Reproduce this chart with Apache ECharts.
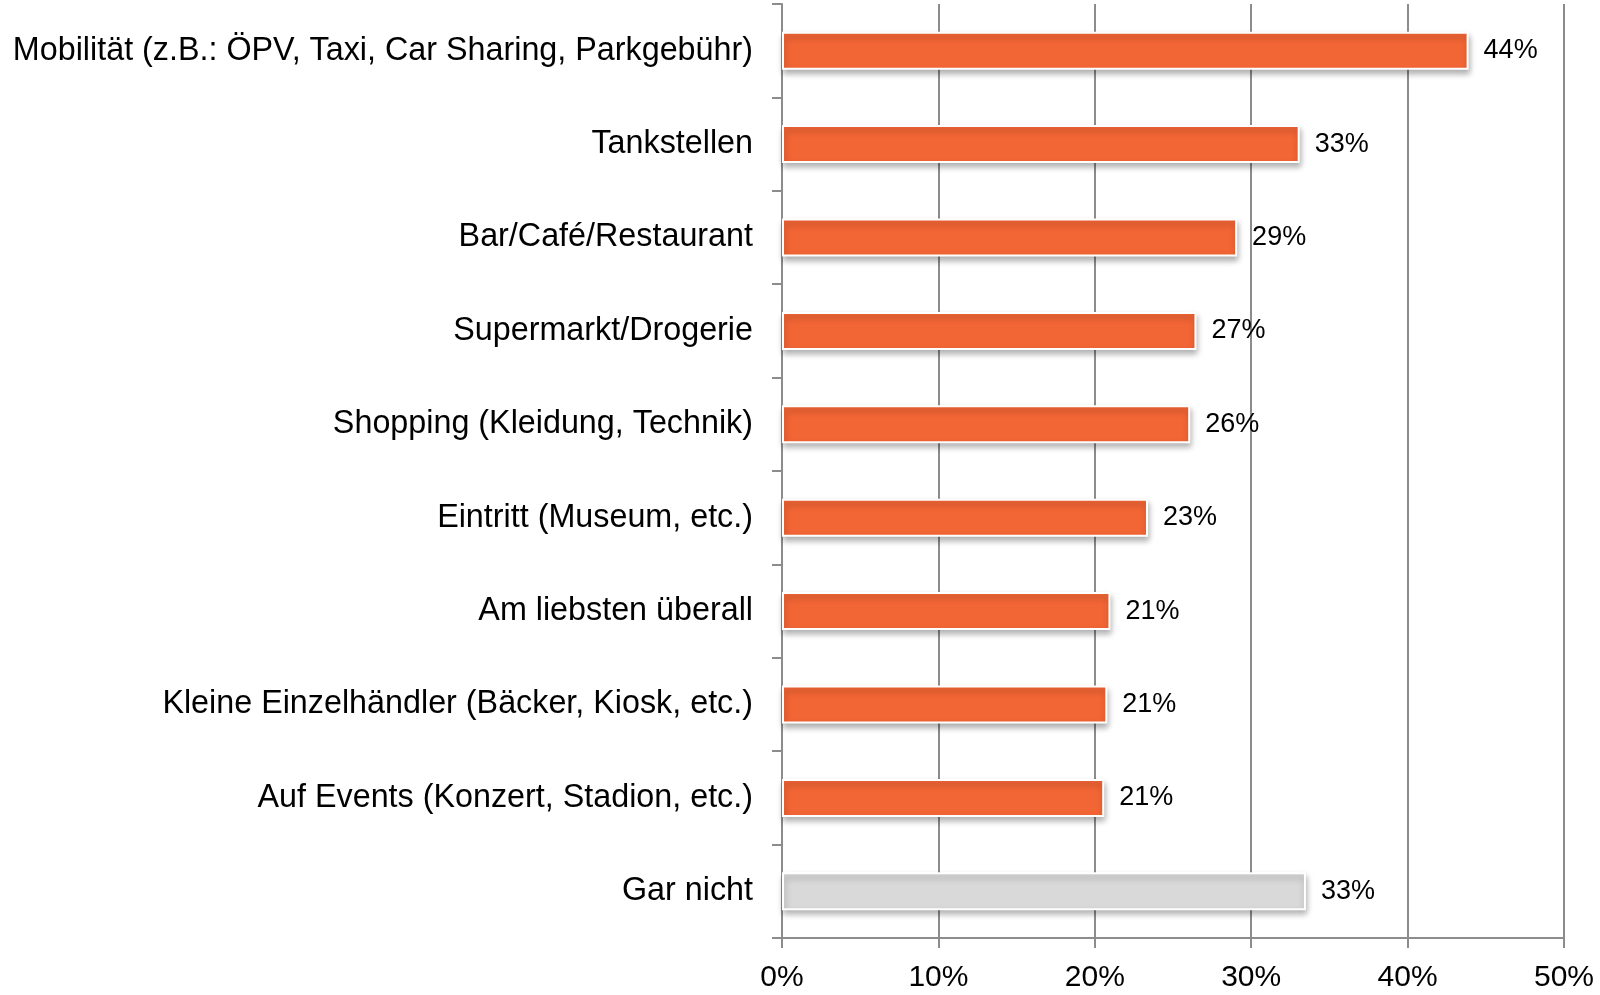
<!DOCTYPE html>
<html>
<head>
<meta charset="utf-8">
<script src="https://cdn.jsdelivr.net/npm/echarts@6/dist/echarts.min.js"></script>
<style>html,body{margin:0;padding:0;background:#fff}#c{width:1600px;height:995px}</style>
</head>
<body>
<div id="c"></div>
<script>
const categories = [
  "Mobilität (z.B.: ÖPV, Taxi, Car Sharing, Parkgebühr)",
  "Tankstellen",
  "Bar/Café/Restaurant",
  "Supermarkt/Drogerie",
  "Shopping (Kleidung, Technik)",
  "Eintritt (Museum, etc.)",
  "Am liebsten überall",
  "Kleine Einzelhändler (Bäcker, Kiosk, etc.)",
  "Auf Events (Konzert, Stadion, etc.)",
  "Gar nicht"
];
const values = [43.9, 33.1, 29.1, 26.5, 26.1, 23.4, 21.0, 20.8, 20.6, 33.5];
const labels = ["44%", "33%", "29%", "27%", "26%", "23%", "21%", "21%", "21%", "33%"];
const xTicks = [0, 10, 20, 30, 40, 50];

const orange = "#F26535";
const grey = "#D9D9D9";
const chart = echarts.init(document.getElementById('c'));
chart.setOption({
  animation: false,
  grid: { left: 782, right: 36, top: 4, bottom: 57, containLabel: false },
  xAxis: {
    type: 'value', min: xTicks[0], max: xTicks[xTicks.length - 1], interval: 10,
    axisLine: { show: true, lineStyle: { color: '#8c8c8c', width: 2 } },
    axisTick: { show: true, length: 10, lineStyle: { color: '#8c8c8c', width: 2 } },
    splitLine: { show: true, lineStyle: { color: '#8c8c8c', width: 2 } },
    axisLabel: { formatter: v => v + '%', color: '#000', fontSize: 30, fontFamily: 'Liberation Sans, Arial', margin: 25 }
  },
  yAxis: {
    type: 'category', inverse: true, data: categories,
    axisLine: { show: true, lineStyle: { color: '#8c8c8c', width: 2 } },
    axisTick: { show: true, length: 10, lineStyle: { color: '#8c8c8c', width: 2 } },
    axisLabel: { color: '#000', fontSize: 32.3, fontFamily: 'Liberation Sans, Arial', margin: 29 }
  },
  series: [{
    type: 'bar',
    barWidth: 38,
    data: values.map((v, i) => ({
      value: v,
      itemStyle: { color: i === values.length - 1 ? grey : orange }
    })),
    itemStyle: {
      borderColor: '#fff', borderWidth: 2,
      shadowColor: 'rgba(0,0,0,0.3)', shadowBlur: 6, shadowOffsetX: 1, shadowOffsetY: 4
    },
    label: {
      show: true, position: 'right', distance: 15,
      formatter: p => labels[p.dataIndex],
      color: '#000', fontSize: 27, fontFamily: 'Liberation Sans, Arial'
    }
  }]
});
</script>
</body>
</html>
